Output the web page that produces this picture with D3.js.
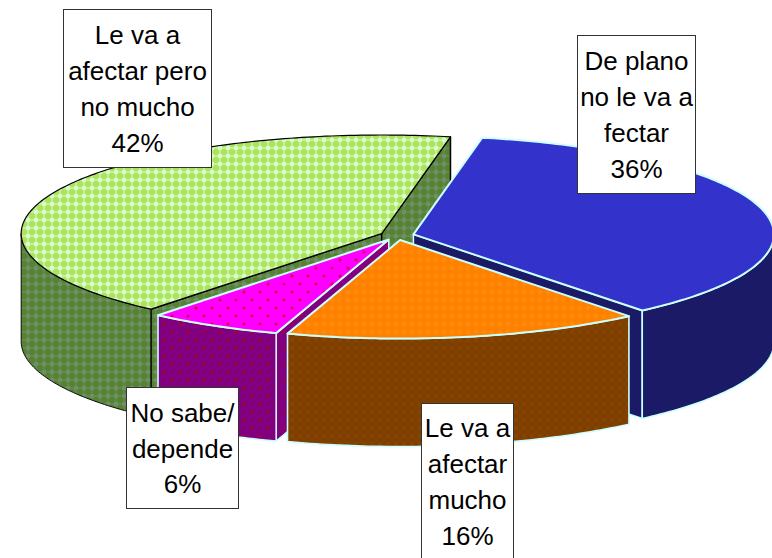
<!DOCTYPE html>
<html>
<head>
<meta charset="utf-8">
<script src="https://cdn.jsdelivr.net/npm/d3@7"></script>
<style>
html, body { margin: 0; padding: 0; background: #fff; }
svg { display: block; }
</style>
</head>
<body>
<script>
// chart values, in pie order (clockwise from the start angle)
var categories = ["De plano", "Le va a mucho", "No sabe", "Le va a pero"];
var values = [36, 16, 6, 42];
var labelLines = [
    ["De plano", "no le va a", "fectar"],
    ["Le va a", "afectar", "mucho"],
    ["No sabe/", "depende"],
    ["Le va a", "afectar pero", "no mucho"]
];

var w = 772;
var h = 558;

// pie geometry
var cx = 397, cy = 235.5;
var rx = 360.5, ry = 98.5;
var depth = 108;
var explode = 0.047;
var startDeg = 11;

var topFill = ["#3333cc", "url(#pOrange)", "url(#pMagenta)", "url(#pGreen)"];
var sideFill = ["#1a1a66", "url(#pBrown)", "url(#pPurple)", "url(#pOlive)"];
var edge = ["#ccffff", "#ccffff", "#ccffff", "#000000"];
var edgeWidth = [2, 2, 2, 1.2];
var drawOrder = [3, 0, 2, 1]; // back to front

// label boxes [left, top, width, height]
var boxes = [
    [577.5, 35.5, 118, 158],
    [421.5, 403.5, 92, 156],
    [126.5, 387.5, 112, 121],
    [63.5, 9.5, 148, 158]
];

var svg = d3.select("body").append("svg")
    .attr("width", w)
    .attr("height", h);

// Fill patterns
var defs = svg.append("defs");

function lattice(id, base, light, mid) {
    var p = defs.append("pattern")
        .attr("id", id)
        .attr("patternUnits", "userSpaceOnUse")
        .attr("width", 8)
        .attr("height", 8);
    p.append("rect").attr("width", 8).attr("height", 8).attr("fill", base);
    p.append("rect").attr("x", 0).attr("y", 3).attr("width", 8).attr("height", 2).attr("fill", mid);
    p.append("rect").attr("x", 3).attr("y", 0).attr("width", 2).attr("height", 8).attr("fill", mid);
    p.append("rect").attr("x", 2).attr("y", 2).attr("width", 4).attr("height", 4).attr("fill", light);
}
lattice("pGreen", "#b0e25c", "#d0ffc8", "#c4f0a0");
lattice("pOlive", "#55832f", "#6f8f6a", "#63874c");
lattice("pOrange", "#ff8000", "#ff8a08", "#ff8400");
lattice("pBrown", "#804000", "#864400", "#7c3e00");

function dots(id, base, dot) {
    var p = defs.append("pattern")
        .attr("id", id)
        .attr("patternUnits", "userSpaceOnUse")
        .attr("width", 16)
        .attr("height", 16);
    p.append("rect").attr("width", 16).attr("height", 16).attr("fill", base);
    p.append("circle").attr("cx", 4).attr("cy", 4).attr("r", 1.6).attr("fill", dot);
    p.append("circle").attr("cx", 12).attr("cy", 12).attr("r", 1.6).attr("fill", dot);
}
dots("pMagenta", "#ff00ff", "#e0004c");
dots("pPurple", "#800080", "#b00020");

// Scales: unit circle to the squashed ellipse
var xScale = d3.scaleLinear().domain([-1, 1]).range([cx - rx, cx + rx]);
var yScale = d3.scaleLinear().domain([-1, 1]).range([cy - ry, cy + ry]);

var pie = d3.pie()
    .sort(null)
    .startAngle(startDeg * Math.PI / 180)
    .endAngle(startDeg * Math.PI / 180 + 2 * Math.PI);

var slices = pie(values);
var line = d3.line();

// unit coords for a point at angle a (clockwise from top), r from the slice apex
function point(d, a, r, z) {
    var mid = (d.startAngle + d.endAngle) / 2;
    var ux = explode * Math.sin(mid) + r * Math.sin(a);
    var uy = -explode * Math.cos(mid) - r * Math.cos(a);
    return [xScale(ux), yScale(uy) + z];
}

function arcPoints(d, a0, a1, z) {
    var n = Math.max(2, Math.ceil((a1 - a0) * 60));
    return d3.range(n + 1).map(function(i) {
        return point(d, a0 + (a1 - a0) * i / n, 1, z);
    });
}

// the part of [a0, a1] on the front of the ellipse
function frontRange(d) {
    var a0 = Math.max(d.startAngle, Math.PI / 2);
    var a1 = Math.min(d.endAngle, 3 * Math.PI / 2);
    return a0 < a1 ? [a0, a1] : null;
}

function radialWall(d, a) {
    return line([point(d, a, 0, 0), point(d, a, 1, 0), point(d, a, 1, depth), point(d, a, 0, depth)]) + "Z";
}

var groups = svg.selectAll("g.slice")
    .data(drawOrder)
    .enter()
    .append("g")
    .attr("class", "slice");

groups.each(function(i) {
    var g = d3.select(this);
    var d = slices[i];

    // radial walls that face the viewer
    [[d.startAngle, Math.sin(d.startAngle) < 0], [d.endAngle, Math.sin(d.endAngle) > 0]].forEach(function(e) {
        if (!e[1]) return;
        g.append("path")
            .attr("d", radialWall(d, e[0]))
            .attr("fill", sideFill[i])
            .attr("stroke", edge[i])
            .attr("stroke-width", 1.5)
            .attr("stroke-linejoin", "round");
    });

    // outer wall
    var range = frontRange(d);
    if (range) {
        var pts = arcPoints(d, range[0], range[1], 0)
            .concat(arcPoints(d, range[0], range[1], depth).reverse());
        g.append("path")
            .attr("d", line(pts) + "Z")
            .attr("fill", sideFill[i])
            .attr("stroke", edge[i])
            .attr("stroke-width", edgeWidth[i] * 0.8)
            .attr("stroke-linejoin", "round");
    }

    // top face
    var topPts = [point(d, 0, 0, 0)].concat(arcPoints(d, d.startAngle, d.endAngle, 0));
    g.append("path")
        .attr("d", line(topPts) + "Z")
        .attr("fill", topFill[i])
        .attr("stroke", edge[i])
        .attr("stroke-width", edgeWidth[i])
        .attr("stroke-linejoin", "round");
});

// Label boxes
var lineGap = 35.7;
var labels = svg.selectAll("g.label")
    .data(values)
    .enter()
    .append("g")
    .attr("class", "label");

labels.append("rect")
    .attr("x", function(d, i) { return boxes[i][0]; })
    .attr("y", function(d, i) { return boxes[i][1]; })
    .attr("width", function(d, i) { return boxes[i][2]; })
    .attr("height", function(d, i) { return boxes[i][3]; })
    .attr("fill", "#ffffff")
    .attr("stroke", "#333333")
    .attr("stroke-width", 1);

labels.each(function(v, i) {
    var rows = labelLines[i].concat([v + "%"]);
    var b = boxes[i];
    var first = b[1] + b[3] / 2 - (rows.length - 1) * lineGap / 2 + 9.5;
    d3.select(this).selectAll("text")
        .data(rows)
        .enter()
        .append("text")
        .text(function(d) { return d; })
        .attr("x", b[0] + b[2] / 2)
        .attr("y", function(d, j) { return first + j * lineGap; })
        .attr("text-anchor", "middle")
        .attr("font-family", "'Liberation Sans', Arial, sans-serif")
        .attr("font-size", "26px")
        .attr("fill", "#000000");
});
</script>
</body>
</html>
